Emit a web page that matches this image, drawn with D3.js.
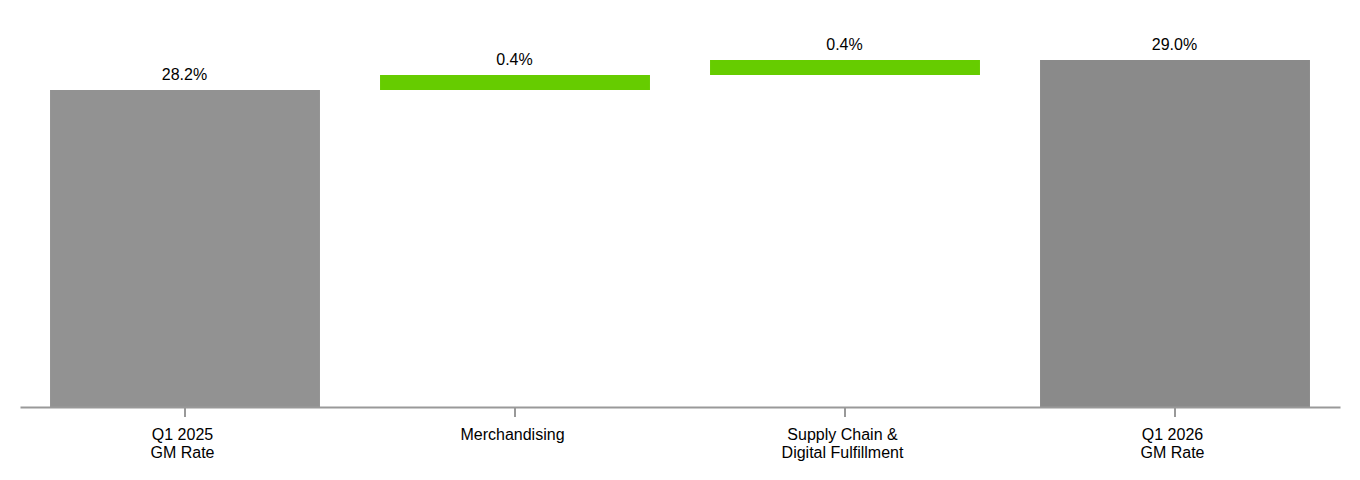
<!DOCTYPE html>
<html>
<head>
<meta charset="utf-8">
<script src="https://cdn.jsdelivr.net/npm/d3@7"></script>
<style>
  body { margin: 0; background: #fff; }
  text { font-family: "Liberation Sans", Arial, sans-serif; fill: #000; }
</style>
</head>
<body>
<div id="chart"></div>
<script>
(function () {

    // waterfall data
    var categories = ['Q1 2025|GM Rate', 'Merchandising', 'Supply Chain &|Digital Fulfillment', 'Q1 2026|GM Rate'];
    var values = [28.2, 0.4, 0.4, 29.0];
    var kinds = ['total', 'delta', 'delta', 'total'];
    var valueLabels = ['28.2%', '0.4%', '0.4%', '29.0%'];

    var w = 1360;
    var h = 480;
    var left = 20, right = 1340, base = 407;

    var svg = d3.select('#chart')
        .append('svg')
            .attr('width', w)
            .attr('height', h);

    // running start/end for each step
    var running = 0;
    var steps = values.map(function (v, i) {
        var s;
        if (kinds[i] === 'total') {
            s = { y0: 0, y1: v };
            running = v;
        } else {
            s = { y0: running, y1: running + v };
            running += v;
        }
        s.cat = categories[i];
        s.kind = kinds[i];
        s.label = valueLabels[i];
        return s;
    });

    var x = d3.scaleBand()
        .domain(categories)
        .range([left, right])
        .paddingInner(0.182)
        .paddingOuter(0.091);

    // axis doesn't start at zero in the source picture
    var y = d3.scaleLinear()
        .domain([19.747, 29.0])
        .range([base, 60]);

    function yTop(d) { return d.kind === 'total' ? y(d.y1) : y(Math.max(d.y0, d.y1)); }
    function yBot(d) { return d.kind === 'total' ? base : y(Math.min(d.y0, d.y1)); }

    svg.selectAll('rect.bar')
        .data(steps)
        .enter()
        .append('rect')
            .attr('class', 'bar')
            .attr('x', function (d) { return x(d.cat); })
            .attr('y', yTop)
            .attr('width', x.bandwidth())
            .attr('height', function (d) { return yBot(d) - yTop(d); })
            .attr('fill', function (d, i) {
                if (d.kind === 'delta') return '#66cc00';
                return i === 0 ? '#929292' : '#8a8a8a';
            });

    svg.selectAll('text.val')
        .data(steps)
        .enter()
        .append('text')
            .attr('class', 'val')
            .attr('text-anchor', 'middle')
            .attr('font-size', 16)
            .attr('x', function (d) { return x(d.cat) + x.bandwidth() / 2 - 0.5; })
            .attr('y', function (d) { return yTop(d) - 10; })
            .text(function (d) { return d.label; });

    // x axis
    var xAxis = d3.axisBottom(x).tickSize(10).tickSizeOuter(0).tickFormat('');
    var gx = svg.append('g')
        .attr('transform', 'translate(0,' + base + ')')
        .call(xAxis);
    gx.select('.domain').attr('stroke', '#999').attr('stroke-width', 2);
    gx.selectAll('.tick line').attr('stroke', '#999').attr('stroke-width', 2);

    gx.selectAll('.tick').each(function (d) {
        var lines = d.split('|');
        var t = d3.select(this).append('text')
            .attr('text-anchor', 'middle')
            .attr('font-size', 16)
            .attr('fill', '#000');
        lines.forEach(function (ln, k) {
            t.append('tspan')
                .attr('x', -2.5)
                .attr('y', 33 + k * 18)
                .text(ln);
        });
    });

})();
</script>
</body>
</html>
